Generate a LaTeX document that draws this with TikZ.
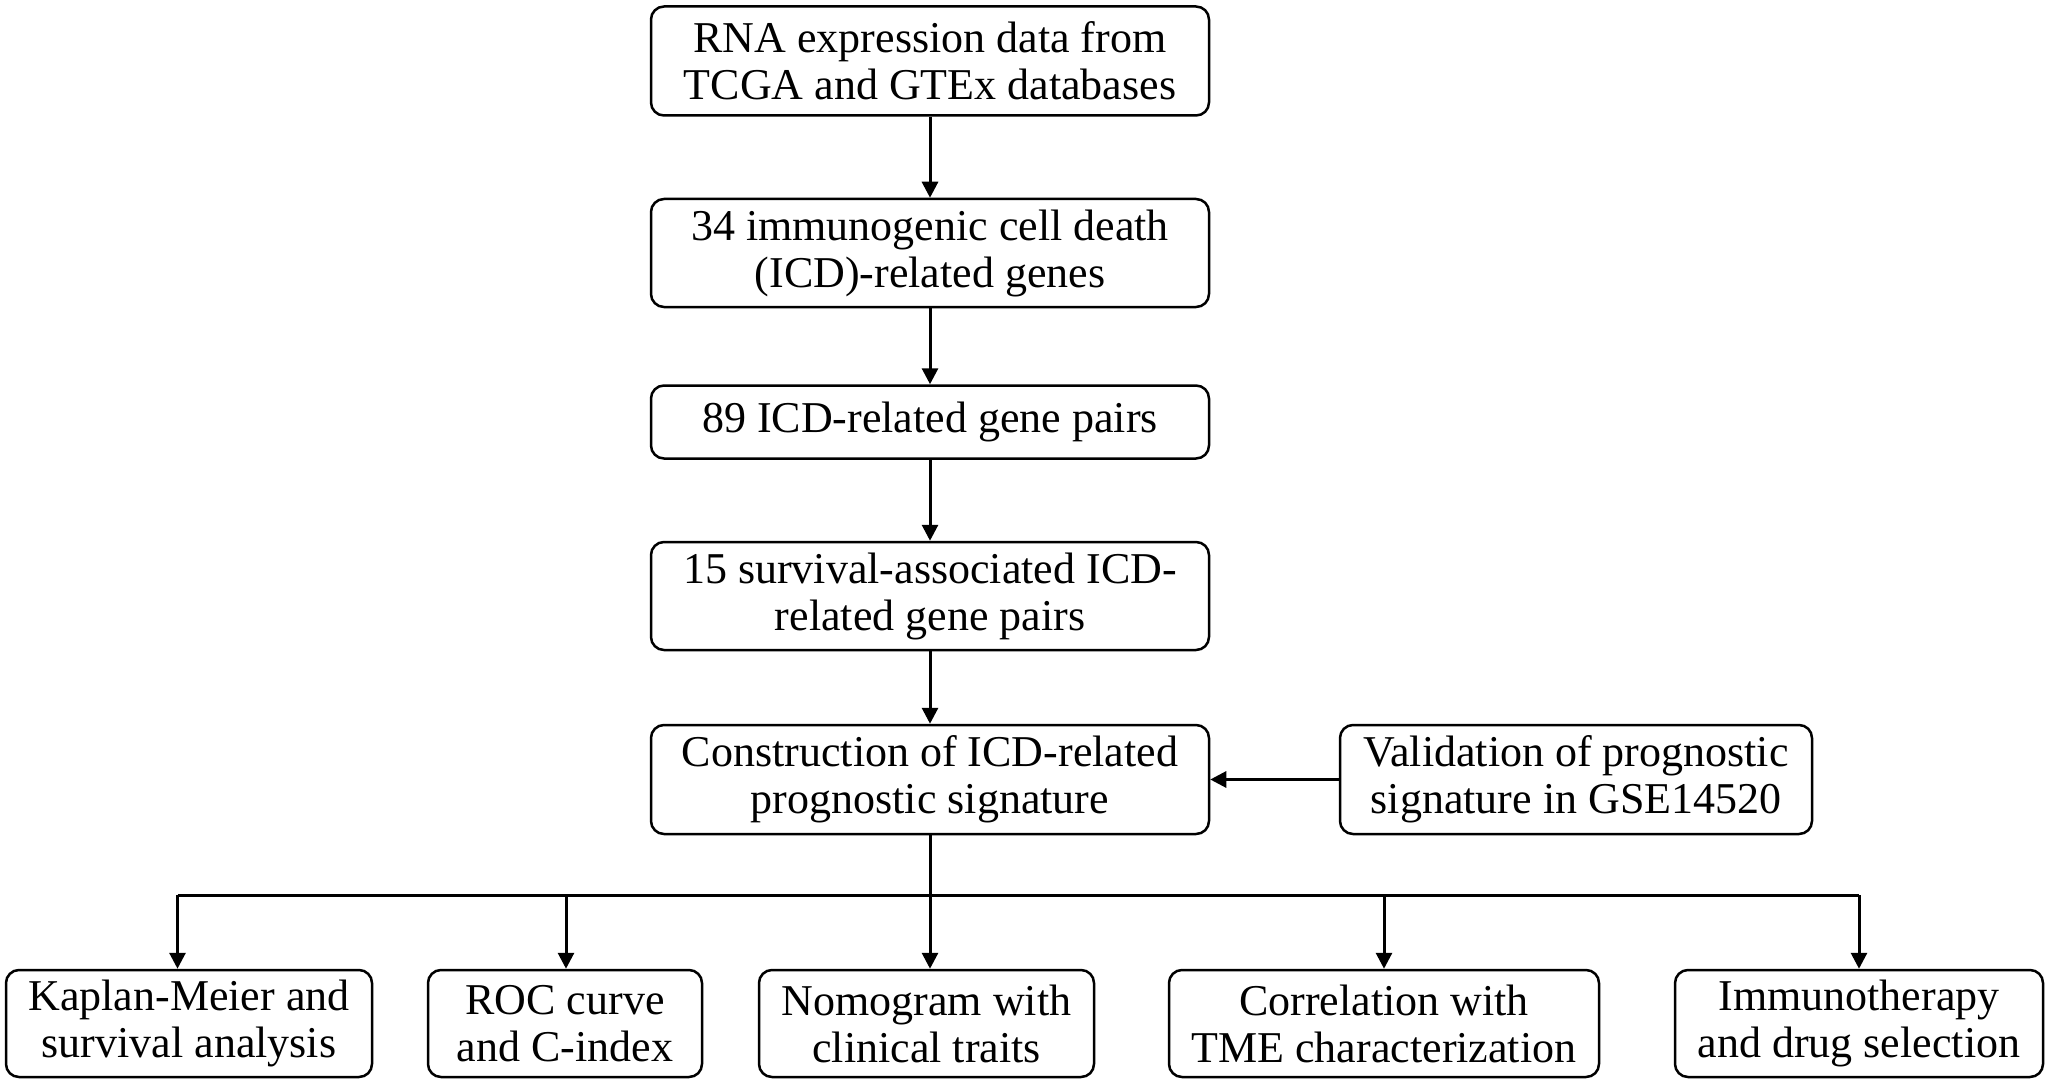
\documentclass[tikz,border=0pt]{standalone}
\usepackage{fontspec}
\setmainfont{Liberation Serif}
\usetikzlibrary{arrows.meta}
\begin{document}
\begin{tikzpicture}[x=1pt,y=-1pt,
  box/.style={draw, line width=2.5pt, rounded corners=13pt, align=center, inner sep=0pt,
    font=\fontsize{44}{47}\selectfont},
  conn/.style={line width=3pt},
  arr/.style={conn, -{Triangle[length=16pt,width=16pt]}}]
\useasboundingbox[fill=white] (0,0) rectangle (2050,1091);
% main column
\node[box, minimum width=558pt, minimum height=109pt] (b1) at (930,61) {RNA expression data from\\TCGA and GTEx databases};
\node[box, minimum width=558pt, minimum height=108pt] (b2) at (930,253) {34 immunogenic cell death\\(ICD)-related genes};
\node[box, minimum width=558pt, minimum height=73pt] (b3) at (930,422) {89 ICD-related gene pairs};
\node[box, minimum width=558pt, minimum height=108pt] (b4) at (930,596) {15 survival-associated ICD-\\related gene pairs};
\node[box, minimum width=558pt, minimum height=109pt] (b5) at (930,779.5) {Construction of ICD-related\\prognostic signature};
\node[box, minimum width=472pt, minimum height=109pt] (val) at (1576,779.5) {Validation of prognostic\\signature in GSE14520};
% bottom row
\node[box, minimum width=366pt, minimum height=107pt] (kap) at (189,1023.5) {Kaplan-Meier and\\survival analysis};
\node[box, minimum width=274pt, minimum height=107pt] (roc) at (565,1023.5) {ROC curve\\and C-index};
\node[box, minimum width=335pt, minimum height=107pt] (nom) at (926.5,1023.5) {Nomogram with\\clinical traits};
\node[box, minimum width=430pt, minimum height=107pt] (cor) at (1384,1023.5) {Correlation with\\TME characterization};
\node[box, minimum width=368pt, minimum height=107pt] (imm) at (1859,1023.5) {Immunotherapy\\and drug selection};
% vertical flow
\draw[arr] (b1) -- (b2);
\draw[arr] (b2) -- (b3);
\draw[arr] (b3) -- (b4);
\draw[arr] (b4) -- (b5);
\draw[arr] (val.west) -- (b5.east);
% bus
\coordinate (bL) at (177.5,895);
\coordinate (bR) at (566,895);
\coordinate (bC) at (1384,895);
\coordinate (bI) at (1859,895);
\draw[conn] (bL) -- (bI);
\draw[arr] (b5.south) -- (b5.south |- nom.north);
\draw[arr] (bL) -- (bL |- kap.north);
\draw[arr] (bR) -- (bR |- roc.north);
\draw[arr] (bC) -- (bC |- cor.north);
\draw[arr] (bI) -- (bI |- imm.north);
\end{tikzpicture}
\end{document}
